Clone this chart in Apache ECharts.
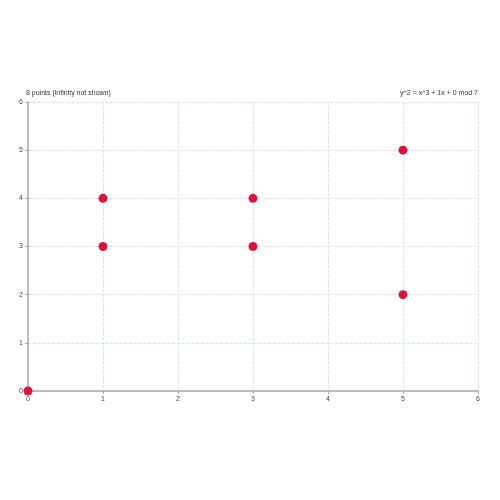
<!DOCTYPE html>
<html>
<head>
<meta charset="utf-8">
<script src="https://cdn.jsdelivr.net/npm/echarts@6/dist/echarts.min.js"></script>
<style>html,body{margin:0;padding:0;background:#fff}#chart{width:500px;height:500px}</style>
</head>
<body>
<div id="chart"></div>
<script>
var xs = [0, 1, 1, 3, 3, 5, 5];
var ys = [0, 3, 4, 3, 4, 2, 5];
var points = xs.map(function(x, i) { return [x, ys[i]]; });

var chart = echarts.init(document.getElementById('chart'));
var axisCommon = {
    type: 'value',
    min: 0,
    max: 6,
    interval: 1,
    axisLine: {show: true, lineStyle: {color: '#aaa', width: 1.5}},
    axisTick: {show: true, length: 3, lineStyle: {color: '#aaa'}},
    axisLabel: {color: '#444', fontSize: 7, fontFamily: 'Liberation Sans', margin: 5},
    splitLine: {show: true, lineStyle: {color: '#bfe0f5', type: 'dashed', width: 0.8}}
};
chart.setOption({
    animation: false,
    title: [
        {text: '8 points (infinity not shown)', left: 24, top: 88, padding: 2,
         textStyle: {fontSize: 7, fontWeight: 'normal', color: '#333', fontFamily: 'Liberation Sans'}},
        {text: 'y^2 = x^3 + 1x + 0 mod 7', right: 20, top: 88, padding: 2,
         textStyle: {fontSize: 7, fontWeight: 'normal', color: '#333', fontFamily: 'Liberation Sans'}}
    ],
    grid: {left: 28, right: 22, top: 102, bottom: 109},
    xAxis: axisCommon,
    yAxis: axisCommon,
    series: [{
        type: 'scatter',
        data: points,
        symbolSize: 9,
        itemStyle: {color: '#dc143c', opacity: 1},
        clip: false
    }]
});
</script>
</body>
</html>
